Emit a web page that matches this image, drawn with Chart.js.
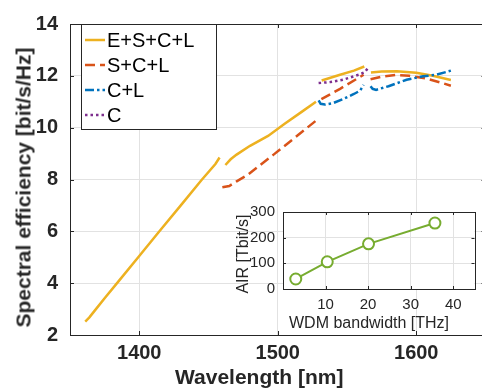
<!DOCTYPE html>
<html>
<head>
<meta charset="utf-8">
<script src="https://cdn.jsdelivr.net/npm/chart.js@4.4.1/dist/chart.umd.min.js"></script>
<style>
  html, body { margin: 0; padding: 0; background: #fff; overflow: hidden; }
  #wrap { position: relative; width: 482px; height: 389px; overflow: hidden; }
  canvas { position: absolute; }
  #main { left: 0; top: 0; }
  #inset { left: 230px; top: 195px; }
  .lbl { position: absolute; white-space: nowrap; color: #262626; font-family: 'Liberation Sans', Arial, sans-serif; }
  .bold { font-weight: bold; font-size: 21px; line-height: 21px; }
  .thin { font-size: 16px; line-height: 16px; }
  .rot { transform: rotate(-90deg); text-align: center; }
</style>
</head>
<body>
<div id="wrap">
  <canvas id="main" width="490" height="389"></canvas>
  <canvas id="inset" width="252" height="135"></canvas>
  <div class="lbl bold" style="left:175px; top:366px;">Wavelength [nm]</div>
  <div class="lbl bold rot" style="left:-127px; top:176.5px; width:300px; height:21px;">Spectral efficiency [bit/s/Hz]</div>
  <div class="lbl thin" style="left:289px; top:314.5px;">WDM bandwidth [THz]</div>
  <div class="lbl thin rot" style="left:182.6px; top:246px; width:120px; height:16px;">AIR [Tbit/s]</div>
</div>
<script>
// main plot: spectral efficiency vs wavelength (null = gap between bands)
const esclWavelength = [1361, 1364, 1368, 1375, 1385, 1400, 1415, 1430, 1445, 1455, 1458, 1460,
  1462.2, 1466, 1470.3, 1480, 1493, 1505, 1517, 1527.6, 1529,
  1531.7, 1545, 1555, 1562.5, 1565,
  1567.3, 1575, 1586, 1600, 1612, 1625];
const esclEfficiency = [2.52, 2.68, 2.95, 3.42, 4.07, 5.05, 6.03, 7.0, 7.98, 8.6, 8.85, null,
  8.56, 8.78, 8.96, 9.3, 9.68, 10.15, 10.6, 11.0, null,
  11.82, 12.04, 12.2, 12.36, null,
  12.13, 12.17, 12.18, 12.12, 12.0, 11.84];

const sclWavelength = [1460, 1465, 1470, 1478, 1497, 1512, 1527.6, 1529,
  1531.5, 1545, 1562, 1565,
  1567, 1575, 1585, 1595, 1607, 1617, 1625];
const sclEfficiency = [7.7, 7.75, 7.92, 8.17, 8.96, 9.6, 10.27, null,
  11.1, 11.5, 12.04, null,
  11.87, 11.97, 12.03, 12.0, 11.9, 11.75, 11.62];

const clWavelength = [1529.5, 1531, 1534, 1540, 1547, 1555, 1559.5, 1562, 1565,
  1567, 1568.5, 1571, 1580, 1593, 1605, 1615, 1625];
const clEfficiency = [11.05, 10.92, 10.89, 10.95, 11.1, 11.3, 11.43, 11.65, null,
  11.6, 11.5, 11.46, 11.6, 11.85, 11.98, 12.05, 12.2];

const cWavelength = [1529.5, 1538, 1547, 1559, 1563, 1565.4];
const cEfficiency = [11.72, 11.76, 11.85, 12.05, 12.15, 12.32];

const seriesNames = ['E+S+C+L', 'S+C+L', 'C+L', 'C'];
const wlTicks = [1400, 1500, 1600];
const seTicks = [2, 4, 6, 8, 10, 12, 14];

// inset: AIR vs WDM bandwidth
const bandwidthTHz = [3, 10.4, 20.1, 35.7];
const airTbit = [39, 106, 176, 257];
const bwTicks = [10, 20, 30, 40];
const airTicks = [0, 100, 200, 300];

Chart.defaults.font.family = "'Liberation Sans', Arial, sans-serif";
Chart.defaults.color = '#262626';

function pts(xs, ys) {
  return xs.map((x, i) => ({ x: x, y: ys[i] }));
}

// MATLAB style box with inward ticks
const frame = {
  id: 'frame',
  afterDatasetsDraw(chart, args, opts) {
    const { ctx, chartArea: a, scales } = chart;
    const t = opts.tick || 4;
    ctx.save();
    ctx.strokeStyle = '#262626';
    ctx.lineWidth = 1;
    ctx.beginPath();
    scales.x.ticks.forEach(tk => {
      const px = Math.round(scales.x.getPixelForValue(tk.value)) + 0.5;
      ctx.moveTo(px, a.bottom); ctx.lineTo(px, a.bottom - t);
      ctx.moveTo(px, a.top); ctx.lineTo(px, a.top + t);
    });
    scales.y.ticks.forEach(tk => {
      const py = Math.round(scales.y.getPixelForValue(tk.value)) + 0.5;
      ctx.moveTo(a.left, py); ctx.lineTo(a.left + t, py);
      ctx.moveTo(a.right, py); ctx.lineTo(a.right - t, py);
    });
    ctx.stroke();
    ctx.strokeRect(Math.round(a.left) + 0.5, Math.round(a.top) + 0.5,
      Math.round(a.right - a.left), Math.round(a.bottom - a.top));
    ctx.restore();
  }
};

const whiteArea = {
  id: 'whiteArea',
  beforeDraw(chart) {
    const { ctx, chartArea: a } = chart;
    ctx.save();
    ctx.fillStyle = '#fff';
    ctx.fillRect(a.left, a.top, a.right - a.left, a.bottom - a.top);
    ctx.restore();
  }
};

// legend box in the top-left corner of the axes
const boxLegend = {
  id: 'boxLegend',
  afterDraw(chart, args, o) {
    const ctx = chart.ctx;
    ctx.save();
    ctx.fillStyle = '#fff';
    ctx.fillRect(o.x, o.y, o.w, o.h);
    ctx.strokeStyle = '#262626';
    ctx.lineWidth = 1;
    ctx.strokeRect(o.x + 0.5, o.y + 0.5, o.w, o.h);
    ctx.font = '20px ' + Chart.defaults.font.family;
    ctx.textBaseline = 'middle';
    chart.data.datasets.forEach((ds, i) => {
      const yy = o.y + o.first + i * o.step;
      ctx.strokeStyle = ds.borderColor;
      ctx.lineWidth = ds.borderWidth;
      ctx.setLineDash(ds.borderDash || []);
      ctx.beginPath();
      ctx.moveTo(o.x + 4, yy);
      ctx.lineTo(o.x + 24, yy);
      ctx.stroke();
      ctx.setLineDash([]);
      ctx.fillStyle = '#000';
      ctx.fillText(ds.label, o.x + 26, yy + 1);
    });
    ctx.restore();
  }
};

const lineStyles = [
  { color: '#EDB120', dash: [], order: 3 },
  { color: '#D95319', dash: [10, 5], order: 2 },
  { color: '#0072BD', dash: [9, 3, 2.5, 3], order: 1 },
  { color: '#7E2F8E', dash: [2.5, 3], order: 0 }
];
const seriesData = [
  pts(esclWavelength, esclEfficiency),
  pts(sclWavelength, sclEfficiency),
  pts(clWavelength, clEfficiency),
  pts(cWavelength, cEfficiency)
];

new Chart(document.getElementById('main'), {
  type: 'line',
  data: {
    datasets: seriesNames.map((name, i) => ({
      label: name,
      data: seriesData[i],
      borderColor: lineStyles[i].color,
      borderDash: lineStyles[i].dash,
      borderWidth: 2.5,
      order: lineStyles[i].order,
      pointRadius: 0,
      tension: 0,
      spanGaps: false,
      fill: false
    }))
  },
  options: {
    responsive: false,
    animation: false,
    layout: { padding: { top: 19, right: 4.5, left: 0, bottom: 0 } },
    plugins: {
      legend: { display: false },
      tooltip: { enabled: false },
      frame: { tick: 4 },
      boxLegend: { x: 81, y: 24, w: 135, h: 105, first: 16, step: 25 }
    },
    scales: {
      x: {
        type: 'linear', min: 1350, max: 1650,
        afterBuildTicks: s => { s.ticks = wlTicks.map(v => ({ value: v })); },
        afterFit: s => { s.height = 54; },
        grid: { color: '#e2e2e2', drawTicks: false },
        border: { display: false },
        ticks: { font: { size: 20, weight: 'bold' }, color: '#262626', padding: 6, maxRotation: 0, callback: v => String(v) }
      },
      y: {
        type: 'linear', min: 2, max: 14,
        afterBuildTicks: s => { s.ticks = seTicks.map(v => ({ value: v })); },
        afterFit: s => { s.width = 70; },
        grid: { color: '#e2e2e2', drawTicks: false },
        border: { display: false },
        ticks: { font: { size: 20, weight: 'bold' }, color: '#262626', padding: 12, callback: v => String(v) }
      }
    }
  },
  plugins: [frame, boxLegend]
});

new Chart(document.getElementById('inset'), {
  type: 'line',
  data: {
    datasets: [{
      label: 'AIR',
      data: pts(bandwidthTHz, airTbit),
      borderColor: '#77AC30',
      borderWidth: 2,
      pointRadius: 5.5,
      pointBorderWidth: 2,
      pointBorderColor: '#77AC30',
      pointBackgroundColor: '#fff',
      tension: 0
    }]
  },
  options: {
    responsive: false,
    animation: false,
    layout: { padding: { top: 15, right: 6, left: 0, bottom: 0 } },
    plugins: {
      legend: { display: false },
      tooltip: { enabled: false },
      frame: { tick: 3 }
    },
    scales: {
      x: {
        type: 'linear', min: 0, max: 45,
        afterBuildTicks: s => { s.ticks = bwTicks.map(v => ({ value: v })); },
        afterFit: s => { s.height = 41; },
        grid: { color: '#e2e2e2', drawTicks: false },
        border: { display: false },
        ticks: { font: { size: 15 }, color: '#262626', padding: 7, maxRotation: 0, callback: v => String(v) }
      },
      y: {
        type: 'linear', min: 0, max: 300,
        afterBuildTicks: s => { s.ticks = airTicks.map(v => ({ value: v })); },
        afterFit: s => { s.width = 53; },
        grid: { color: '#e2e2e2', drawTicks: false },
        border: { display: false },
        ticks: { font: { size: 15 }, color: '#262626', padding: 8, callback: v => String(v) }
      }
    }
  },
  plugins: [whiteArea, frame]
});
</script>
</body>
</html>
